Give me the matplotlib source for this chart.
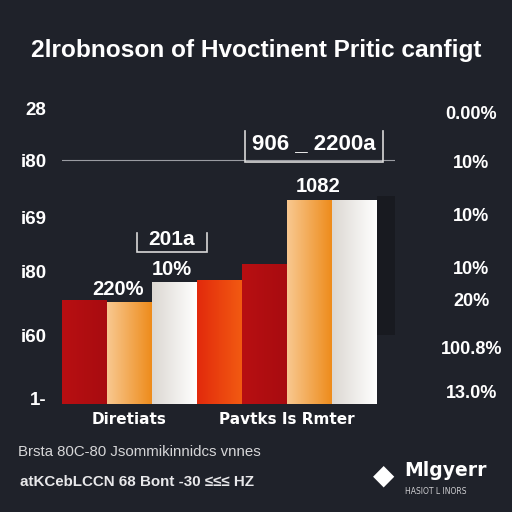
import numpy as np
import matplotlib
matplotlib.use("Agg")
import matplotlib.pyplot as plt
from matplotlib.colors import LinearSegmentedColormap
from matplotlib import font_manager as fm

# ---------------- data ----------------
title = "2lrobnoson of Hvoctinent Pritic canfigt"
categories = ["Diretiats", "Pavtks Is Rmter"]
group1_series = ["Crimson", "Amber", "Ivory"]
group1_values = [33.8, 33.1, 39.6]
group2_series = ["Ember", "Crimson", "Amber", "Ivory"]
group2_values = [40.3, 45.5, 66.2, 66.2]

left_tick_values = [96.1, 79.2, 60.4, 42.9, 22.1, 1.9]
left_tick_labels = ["28", "i80", "i69", "i80", "i60", "1-"]
right_tick_values = [94.8, 78.6, 61.4, 44.2, 33.8, 18.2, 3.9]
right_tick_labels = ["0.00%", "10%", "10%", "10%", "20%", "100.8%", "13.0%"]

value_labels = ["220%", "10%", "1082"]
bracket_labels = ["201a", "906 _ 2200a"]
footer1 = "Brsta 80C-80 Jsommikinnidcs vnnes"
footer2 = "atKCebLCCN 68 Bont -30 \u2264\u2264\u2264 HZ"
logo_name = "Mlgyerr"
logo_sub = "HASIOT L INORS"

# ---------------- style ----------------
BG = "#1f222a"
gradients = {
    "Crimson": ["#b80f12", "#a80c10"],
    "Ember": ["#e22a0c", "#f25a12"],
    "Amber": ["#f8c890", "#ee8c1c"],
    "Ivory": ["#dcd8d2", "#ffffff"],
}
names = {f.name for f in fm.fontManager.ttflist}
NARROW = "Liberation Sans Narrow" if "Liberation Sans Narrow" in names else "Liberation Sans"

fig = plt.figure(figsize=(5.12, 5.12), dpi=100, facecolor=BG)
ax = fig.add_axes([62 / 512, 1 - 404 / 512, 333 / 512, 308 / 512])
ax.set_facecolor(BG)
for s in ax.spines.values():
    s.set_visible(False)


def draw_group(start, series, values):
    xs = start + 0.5 + np.arange(len(values))
    bars = ax.bar(xs, values, width=1.0, color=[gradients[s][1] for s in series],
                  linewidth=0, zorder=2)
    for b, s in zip(bars, series):
        cmap = LinearSegmentedColormap.from_list(s, gradients[s])
        x0, y0 = b.get_x(), b.get_y()
        im = ax.imshow(np.linspace(0, 1, 64).reshape(1, -1), cmap=cmap,
                       extent=[x0, x0 + b.get_width(), y0, y0 + b.get_height()],
                       aspect="auto", zorder=3)
        im.set_clip_path(b)
    return xs, bars


xs1, bars1 = draw_group(0, group1_series, group1_values)
xs2, bars2 = draw_group(len(group1_values), group2_series, group2_values)
# soft dark shadow to the right of the tallest group
last = bars2[-1]
ax.bar(last.get_x() + last.get_width() + 0.2, group2_values[-1] * 0.68, width=0.4,
       bottom=group2_values[-1] * 0.34, color="#181a20", linewidth=0, zorder=1)
ax.set_xlim(0, 7.4)
ax.set_ylim(0, 100)

# category ticks
centers = [xs1.mean(), xs2.mean()]
ax.set_xticks(centers)
ax.set_xticklabels(categories, color="white", fontsize=11, fontweight="bold",
                   family="DejaVu Sans")
ax.tick_params(axis="x", length=0, pad=6)

ax.set_yticks(left_tick_values)
ax.set_yticklabels(left_tick_labels, color="white", fontsize=13.5, fontweight="bold",
                   family=NARROW)
ax.tick_params(axis="y", length=0, pad=11)

ax2 = ax.twinx()
ax2.set_ylim(0, 100)
for s in ax2.spines.values():
    s.set_visible(False)
ax2.set_yticks(right_tick_values)
ax2.set_yticklabels(right_tick_labels, color="white", fontsize=13, fontweight="bold",
                    family=NARROW, ha="center")
ax2.tick_params(axis="y", length=0, pad=55)

# reference line
ax.axhline(79.2, color="#9a9ca2", lw=0.8, zorder=1)

# value labels
lab_kw = dict(color="white", fontsize=14.5, fontweight="bold",
              family=NARROW, ha="center", va="bottom", zorder=5)
ax.text(xs1[1] - 0.26, group1_values[1] + 1.0, value_labels[0], **lab_kw)
ax.text(xs1[2] - 0.06, group1_values[2] + 1.0, value_labels[1], **lab_kw)
ax.text(xs2[2] + 0.19, group2_values[2] + 1.4, value_labels[2], **lab_kw)

# brackets
def bracket(x0, x1, ytop, ybot, label, size):
    ax.plot([x0, x0, x1, x1], [ytop, ybot, ybot, ytop], color="#d8d8d8", lw=1.2,
            zorder=4, solid_joinstyle="miter")
    ax.text((x0 + x1) / 2, (ytop + ybot) / 2 + 1, label, color="white",
            fontsize=size, fontweight="bold", family=NARROW,
            ha="center", va="center", zorder=5)

bracket(1.67, 3.22, 55.5, 49.4, bracket_labels[0], 15)
bracket(4.07, 7.13, 88.6, 78.6, bracket_labels[1], 16)

# title, sized to fit the reference width
t = fig.text(0.5, 1 - 50 / 512, title, color="white", fontsize=24, fontweight="bold",
             family=NARROW, ha="center", va="center")
renderer = fig.canvas.get_renderer()
w = t.get_window_extent(renderer).width
t.set_fontsize(24 * 452 / w)

# footer
f1 = fig.text(18 / 512, 1 - 452 / 512, footer1, color="#d6d6d8", fontsize=10,
              family=NARROW, ha="left", va="center")
f1.set_fontsize(10 * 244 / f1.get_window_extent(renderer).width)
f2 = fig.text(20 / 512, 1 - 482 / 512, footer2, color="#e8e8ea", fontsize=10.5,
              fontweight="bold", family=NARROW, ha="left", va="center")
f2.set_fontsize(10.5 * 235 / f2.get_window_extent(renderer).width)

# logo
fig.text(384 / 512, 1 - 476 / 512, "\u25c6", color="white", fontsize=20,
         family="DejaVu Sans", ha="center", va="center")
fig.text(404 / 512, 1 - 470 / 512, logo_name, color="white", fontsize=13.5,
         fontweight="bold", family="DejaVu Sans", ha="left", va="center")
fig.text(405 / 512, 1 - 491 / 512, logo_sub, color="#cfcfd2", fontsize=5.5,
         family="DejaVu Sans", ha="left", va="center")

fig.savefig("out.png", dpi=100, facecolor=BG)
